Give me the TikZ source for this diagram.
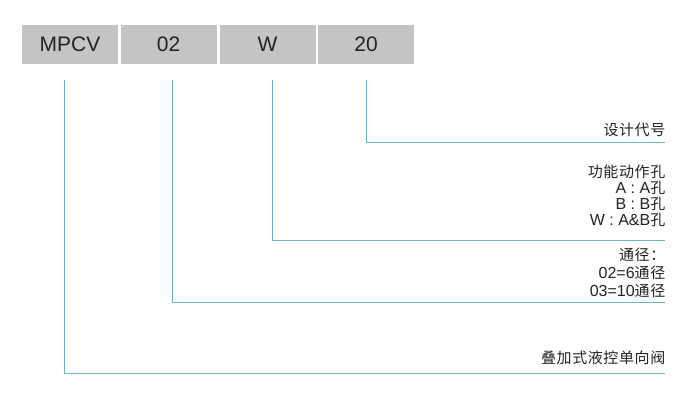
\documentclass[tikz,border=0pt]{standalone}
\usepackage{fontspec}
\setmainfont{Liberation Sans}
\newfontfamily\cjk[LetterSpace=4]{Noto Sans CJK SC}
\newcommand\ck[1]{{\cjk\fontsize{15}{16}\selectfont #1}}
\definecolor{boxgray}{RGB}{196,196,196}
\definecolor{linkblue}{RGB}{110,180,200}
\definecolor{txt}{RGB}{35,35,35}
\begin{document}
\begin{tikzpicture}[x=1pt,y=-1pt,
  codebox/.style={fill=boxgray,minimum width=96pt,minimum height=39pt,inner sep=0pt,font=\fontsize{21}{21}\selectfont,text=txt},
  link/.style={draw=linkblue,line width=1pt},
  desc/.style={anchor=east,align=right,inner sep=0pt,text=txt}]
\useasboundingbox (0,0) rectangle (700,403);
\node[codebox] (b1) at (70,44.5) {MPCV};
\node[codebox] (b2) at (168.5,44.5) {02};
\node[codebox] (b3) at (267.5,44.5) {W};
\node[codebox] (b4) at (366,44.5) {20};
\coordinate (s1) at (64,80);
\coordinate (s2) at (172,80);
\coordinate (s3) at (272,80);
\coordinate (s4) at (366,80);
\coordinate (e1) at (665,373);
\coordinate (e2) at (665,302.5);
\coordinate (e3) at (665,240);
\coordinate (e4) at (665,143);
\node[desc,font=\fontsize{16}{16}\selectfont] (t4) at (665.5,130) {\ck{设计代号}};
\node[desc,font=\fontsize{16}{16}\selectfont] (t3) at (665.5,196) {\ck{功能动作孔}\\A : A\ck{孔}\\B : B\ck{孔}\\W : A\&B\ck{孔}};
\node[desc,font=\fontsize{16}{18}\selectfont] (t2) at (665.5,273) {\ck{通径：}\\02=6\ck{通径}\\03=10\ck{通径}};
\node[desc,font=\fontsize{16}{16}\selectfont] (t1) at (665.5,358) {\ck{叠加式液控单向阀}};
\draw[link] (s4) |- (e4);
\draw[link] (s3) |- (e3);
\draw[link] (s2) |- (e2);
\draw[link] (s1) |- (e1);
\end{tikzpicture}
\end{document}
